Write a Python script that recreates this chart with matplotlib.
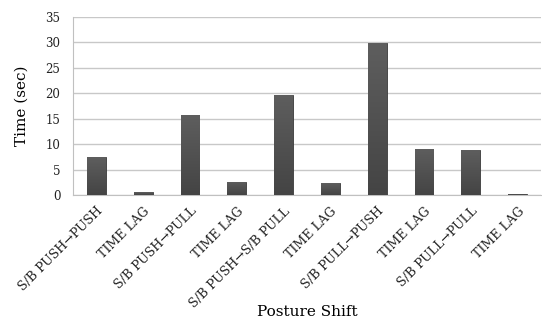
import matplotlib.pyplot as plt
import numpy as np

# data
categories = ['S/B PUSH\u2192PUSH', 'TIME LAG', 'S/B PUSH\u2192PULL', 'TIME LAG',
              'S/B PUSH\u2192S/B PULL', 'TIME LAG', 'S/B PULL\u2192PUSH', 'TIME LAG',
              'S/B PULL\u2192PULL', 'TIME LAG']
times = [7.4, 0.5, 15.7, 2.6, 19.7, 2.3, 29.8, 9.1, 8.9, 0.2]
yticks = [0, 5, 10, 15, 20, 25, 30, 35]

plt.rcParams['font.family'] = ['DejaVu Serif']

fig = plt.figure(figsize=(5.42, 3.23), dpi=100)
ax = fig.add_axes([73/542, 1 - 195/323, 468/542, 178/323])

x = np.arange(len(categories))
bars = ax.bar(x, times, width=0.4, color='#505050', edgecolor='#3a3a3a', linewidth=0.6, zorder=3)

# vertical gradient on each bar
cmap = plt.matplotlib.colors.LinearSegmentedColormap.from_list('g', ['#444444', '#5e5e5e'])
grad = np.linspace(0, 1, 100).reshape(-1, 1)
for b in bars:
    x0, y0 = b.get_x(), b.get_y()
    w, h = b.get_width(), b.get_height()
    im = ax.imshow(grad, cmap=cmap, extent=(x0, x0 + w, y0, y0 + h),
                   origin='lower', aspect='auto', zorder=3.5)
    im.set_clip_path(b)

ax.set_xlim(-0.5, len(categories) - 0.5)
ax.set_ylim(0, 35)
ax.set_yticks(yticks)
ax.yaxis.grid(True, color='#c8c8c8', linewidth=1.0, zorder=0)
ax.set_axisbelow(True)
for s in ['top', 'right']:
    ax.spines[s].set_visible(False)
ax.spines['left'].set_color('#c0c0c0')
ax.spines['bottom'].set_color('#c0c0c0')
ax.tick_params(axis='both', length=0, labelsize=8.5, colors='#222222')
ax.tick_params(axis='y', pad=9)

ax.set_xticks(x)
ax.set_xticklabels(categories, rotation=45, ha='right', rotation_mode='anchor', fontsize=9)
ax.tick_params(axis='x', pad=7)

ax.set_ylabel('Time (sec)', fontsize=11, labelpad=12)
ax.set_xlabel('Posture Shift', fontsize=11)
ax.xaxis.set_label_coords(0.5, -0.66)
ax.xaxis.label.set_va('center')

fig.savefig('out.png', dpi=100)
